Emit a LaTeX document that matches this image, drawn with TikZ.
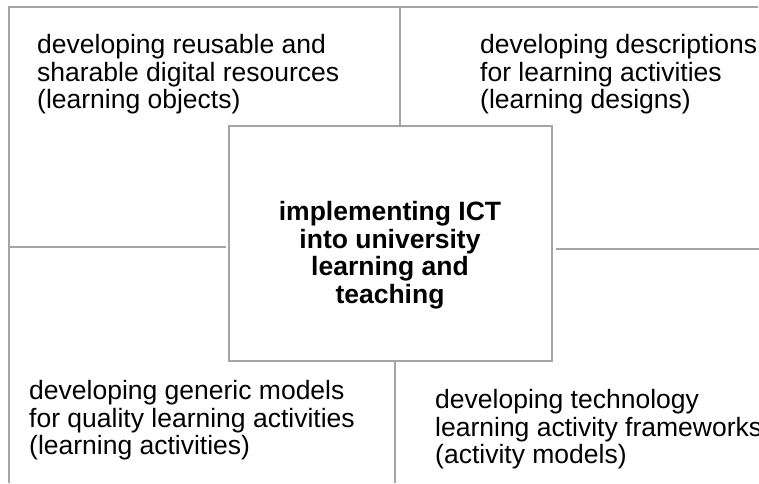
\documentclass[tikz,border=0pt]{standalone}
\usepackage{fontspec}
\setmainfont{Liberation Sans}
\definecolor{rule}{RGB}{165,165,165}
\begin{document}
\begin{tikzpicture}[x=1pt,y=-1pt,
  ln/.style={draw=rule,line width=1.1pt},
  lbl/.style={anchor=north west,inner sep=0pt,align=left,font=\fontsize{26.5}{27.6}\selectfont},
  hub/.style={draw=rule,line width=1.1pt,minimum width=323pt,minimum height=235pt,inner sep=0pt}]
\useasboundingbox (0,0) rectangle (759,483);
\fill[white] (0,0) rectangle (759,483);
\node[hub] (box) at (390.5,243.5) {};
\node[anchor=north,inner sep=0pt,align=center,font=\fontsize{26.5}{27.6}\selectfont\bfseries] (ctext) at (390,201)
  {implementing ICT\\into university\\learning and\\teaching};
\node[lbl] (tl) at (37,34) {developing reusable and\\sharable digital resources\\(learning objects)};
\node[lbl] (tr) at (480,34) {developing descriptions\\for learning activities\\(learning designs)};
\node[lbl] (bl) at (29,380) {developing generic models\\for quality learning activities\\(learning activities)};
\node[lbl] (br) at (435,389) {developing technology\\learning activity frameworks\\(activity models)};
\coordinate (ctl) at (9,7);
\coordinate (ctr) at (758,7);
\coordinate (cbl) at (9,483);
\coordinate (ctop) at (400,7);
\coordinate (cleft) at (10,247);
\coordinate (cright) at (759,249);
\coordinate (cbot) at (395,483);
\draw[ln] (cbl) -- (ctl) -- (ctr);
\draw[ln] (ctop) -- (ctop |- box.north);
\draw[ln] (cleft) -- ([xshift=-2pt]box.west |- cleft);
\draw[ln] ([xshift=3pt]box.east |- cright) -- (cright);
\draw[ln] (cbot |- box.south) -- (cbot);
\end{tikzpicture}
\end{document}
